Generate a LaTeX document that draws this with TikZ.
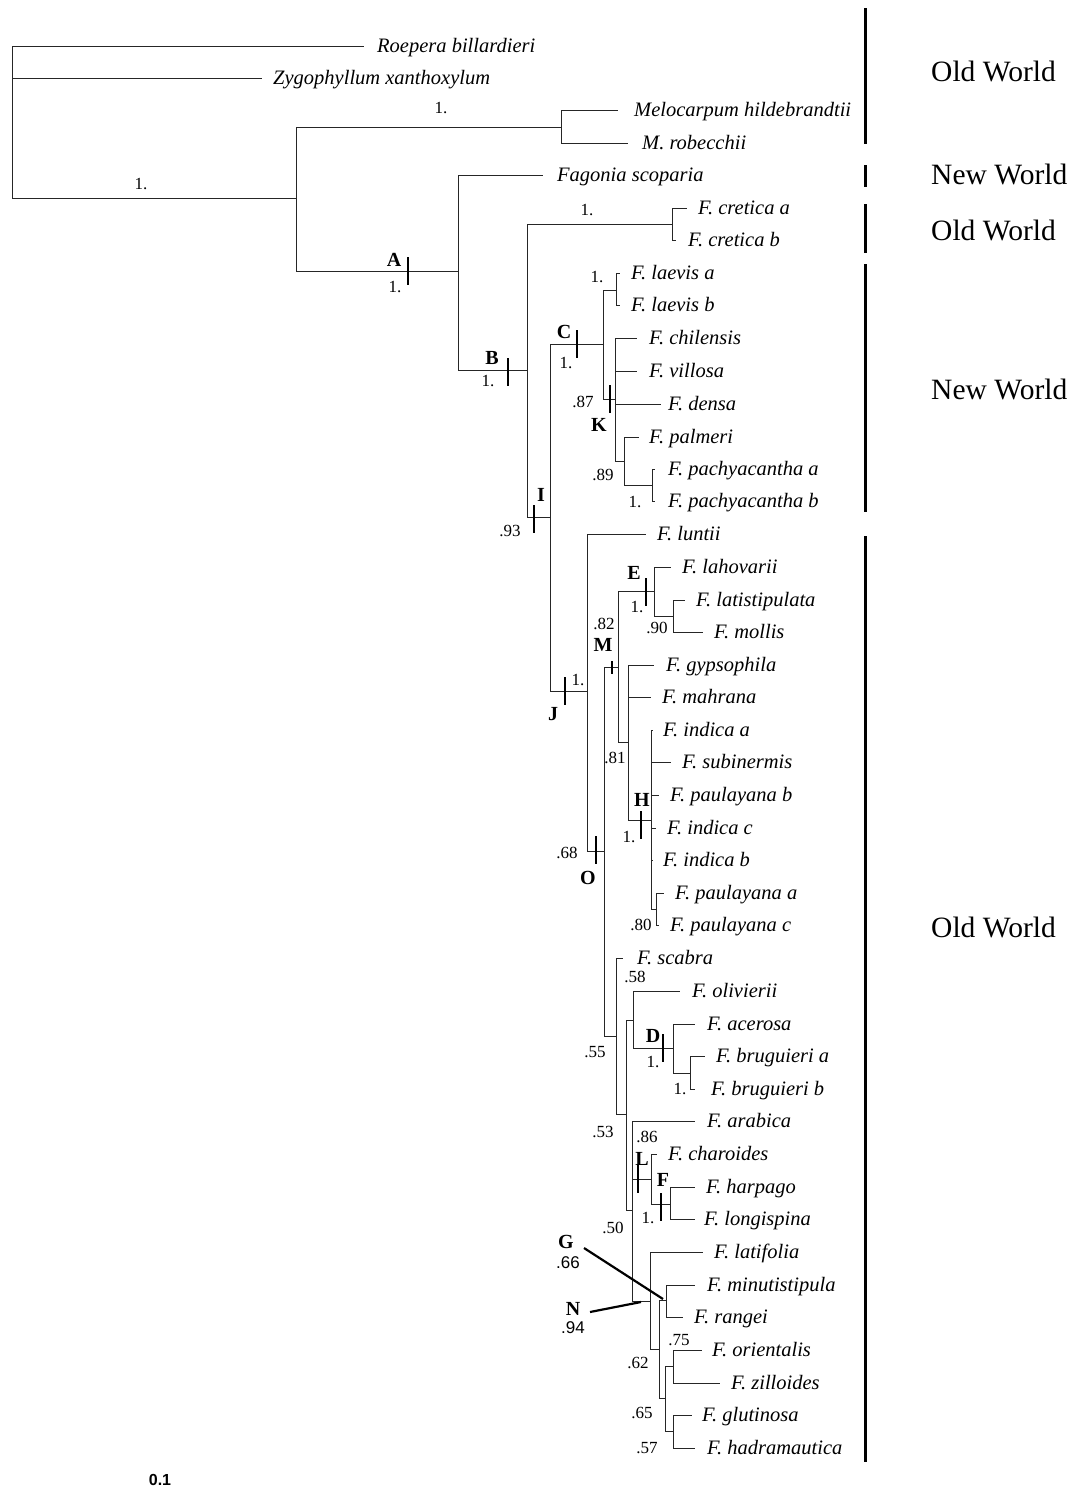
\documentclass[tikz,border=0pt]{standalone}
\usepackage{fontspec}
\setmainfont{Liberation Serif}
\newfontfamily\helv{Liberation Sans}
\tikzset{
  br/.style={line width=0.9pt,black!85},
  taxon/.style={anchor=west,inner sep=0pt,font=\fontsize{20.5}{22}\selectfont\itshape,text height=13.5pt,text depth=0pt},
  supp/.style={inner sep=0pt,font=\fontsize{17}{17}\selectfont},
  clade/.style={inner sep=0pt,font=\fontsize{20}{20}\selectfont\bfseries},
  cbar/.style={fill=black,inner sep=0pt,minimum width=2.8pt,minimum height=28pt},
  geo/.style={line width=3pt},
  region/.style={anchor=west,inner sep=0pt,font=\fontsize{29.5}{30}\selectfont,text height=19.5pt,text depth=0pt},
  call/.style={line width=2.2pt},
  csup/.style={inner sep=0pt,font=\helv\fontsize{17}{17}\selectfont}
}
\begin{document}
\begin{tikzpicture}[x=1pt,y=-1pt]
    \useasboundingbox (0,0) rectangle (1076,1492);
    % internal nodes
    \coordinate (r0) at (12,120); \coordinate (n1) at (296,198); \coordinate (nMel) at (561,127);
    \coordinate (nA) at (458,271); \coordinate (nB) at (527,370); \coordinate (nCre) at (672,224);
    \coordinate (nI) at (550,517); \coordinate (nC) at (603,344); \coordinate (nLae) at (616,290);
    \coordinate (nK) at (615,399); \coordinate (nPal) at (624,461); \coordinate (nPac) at (652,485);
    \coordinate (nJ) at (587,691); \coordinate (nO) at (604,851); \coordinate (nM) at (618,667);
    \coordinate (nE) at (654,591); \coordinate (nLat) at (673,616); \coordinate (nGyp) at (628,742);
    \coordinate (nH) at (651,820); \coordinate (nPau) at (656,909); \coordinate (nLow) at (616,1036);
    \coordinate (nOl) at (626,1114); \coordinate (nOli) at (633,1020); \coordinate (nD) at (673,1048);
    \coordinate (nBru) at (690,1073); \coordinate (nN) at (632,1210); \coordinate (nL) at (651,1179);
    \coordinate (nF) at (670,1204); \coordinate (nG0) at (650,1301); \coordinate (nP) at (659,1349);
    \coordinate (nG) at (666,1300); \coordinate (nQ) at (665,1398); \coordinate (nOr) at (673,1366);
    \coordinate (nGl) at (673,1431);
    % tips
    \coordinate (tRoe) at (364,46); \node[taxon] (lRoe) at (377,46) {Roepera billardieri};
    \coordinate (tZyg) at (262,78); \node[taxon] (lZyg) at (273,78) {Zygophyllum xanthoxylum};
    \coordinate (tMel1) at (618,110); \node[taxon] (lMel1) at (634,110) {Melocarpum hildebrandtii};
    \coordinate (tMel2) at (628,143); \node[taxon] (lMel2) at (642,143) {M. robecchii};
    \coordinate (tFsc) at (543,175); \node[taxon] (lFsc) at (557,175) {Fagonia scoparia};
    \coordinate (tCa) at (687,208); \node[taxon] (lCa) at (698,208) {F. cretica a};
    \coordinate (tCb) at (676,240); \node[taxon] (lCb) at (688,240) {F. cretica b};
    \coordinate (tLa) at (620,273); \node[taxon] (lLa) at (631,273) {F. laevis a};
    \coordinate (tLb) at (620,305); \node[taxon] (lLb) at (631,305) {F. laevis b};
    \coordinate (tChi) at (637,338); \node[taxon] (lChi) at (649,338) {F. chilensis};
    \coordinate (tVil) at (637,371); \node[taxon] (lVil) at (649,371) {F. villosa};
    \coordinate (tDen) at (661,404); \node[taxon] (lDen) at (668,404) {F. densa};
    \coordinate (tPal) at (639,437); \node[taxon] (lPal) at (649,437) {F. palmeri};
    \coordinate (tPa) at (655,469); \node[taxon] (lPa) at (668,469) {F. pachyacantha a};
    \coordinate (tPb) at (655,501); \node[taxon] (lPb) at (668,501) {F. pachyacantha b};
    \coordinate (tLun) at (646,534); \node[taxon] (lLun) at (657,534) {F. luntii};
    \coordinate (tLah) at (671,567); \node[taxon] (lLah) at (682,567) {F. lahovarii};
    \coordinate (tLat) at (685,600); \node[taxon] (lLat) at (696,600) {F. latistipulata};
    \coordinate (tMol) at (703,632); \node[taxon] (lMol) at (714,632) {F. mollis};
    \coordinate (tGyp) at (654,665); \node[taxon] (lGyp) at (666,665) {F. gypsophila};
    \coordinate (tMah) at (651,697); \node[taxon] (lMah) at (662,697) {F. mahrana};
    \coordinate (tIa) at (653,730); \node[taxon] (lIa) at (663,730) {F. indica a};
    \coordinate (tSub) at (671,762); \node[taxon] (lSub) at (682,762) {F. subinermis};
    \coordinate (tPb2) at (659,795); \node[taxon] (lPb2) at (670,795) {F. paulayana b};
    \coordinate (tIc) at (656,828); \node[taxon] (lIc) at (667,828) {F. indica c};
    \coordinate (tIb) at (653,860); \node[taxon] (lIb) at (663,860) {F. indica b};
    \coordinate (tPaa) at (664,893); \node[taxon] (lPaa) at (675,893) {F. paulayana a};
    \coordinate (tPac) at (659,925); \node[taxon] (lPac) at (670,925) {F. paulayana c};
    \coordinate (tSca) at (623,958); \node[taxon] (lSca) at (637,958) {F. scabra};
    \coordinate (tOli) at (680,991); \node[taxon] (lOli) at (692,991) {F. olivierii};
    \coordinate (tAce) at (695,1024); \node[taxon] (lAce) at (707,1024) {F. acerosa};
    \coordinate (tBa) at (705,1056); \node[taxon] (lBa) at (716,1056) {F. bruguieri a};
    \coordinate (tBb) at (695,1089); \node[taxon] (lBb) at (711,1089) {F. bruguieri b};
    \coordinate (tAra) at (695,1121); \node[taxon] (lAra) at (707,1121) {F. arabica};
    \coordinate (tCha) at (657,1154); \node[taxon] (lCha) at (668,1154) {F. charoides};
    \coordinate (tHar) at (695,1187); \node[taxon] (lHar) at (706,1187) {F. harpago};
    \coordinate (tLon) at (695,1219); \node[taxon] (lLon) at (704,1219) {F. longispina};
    \coordinate (tLatf) at (703,1252); \node[taxon] (lLatf) at (714,1252) {F. latifolia};
    \coordinate (tMin) at (695,1285); \node[taxon] (lMin) at (707,1285) {F. minutistipula};
    \coordinate (tRan) at (683,1317); \node[taxon] (lRan) at (694,1317) {F. rangei};
    \coordinate (tOr) at (702,1350); \node[taxon] (lOr) at (712,1350) {F. orientalis};
    \coordinate (tZil) at (720,1383); \node[taxon] (lZil) at (731,1383) {F. zilloides};
    \coordinate (tGlu) at (692,1415); \node[taxon] (lGlu) at (702,1415) {F. glutinosa};
    \coordinate (tHad) at (695,1448); \node[taxon] (lHad) at (707,1448) {F. hadramautica};
    % branches
    \draw[br] (r0) |- (tRoe) (r0) |- (tZyg) (r0) |- (n1);
    \draw[br] (n1) |- (nMel) (n1) |- (nA); \draw[br] (nMel) |- (tMel1) (nMel) |- (tMel2);
    \draw[br] (nA) |- (tFsc) (nA) |- (nB); \draw[br] (nB) |- (nCre) (nB) |- (nI);
    \draw[br] (nCre) |- (tCa) (nCre) |- (tCb); \draw[br] (nI) |- (nC) (nI) |- (nJ);
    \draw[br] (nC) |- (nLae) (nC) |- (nK); \draw[br] (nLae) |- (tLa) (nLae) |- (tLb);
    \draw[br] (nK) |- (tChi) (nK) |- (tVil) (nK) |- (tDen) (nK) |- (nPal);
    \draw[br] (nPal) |- (tPal) (nPal) |- (nPac); \draw[br] (nPac) |- (tPa) (nPac) |- (tPb);
    \draw[br] (nJ) |- (tLun) (nJ) |- (nO); \draw[br] (nO) |- (nM) (nO) |- (nLow);
    \draw[br] (nM) |- (nE) (nM) |- (nGyp); \draw[br] (nE) |- (tLah) (nE) |- (nLat);
    \draw[br] (nLat) |- (tLat) (nLat) |- (tMol); \draw[br] (nGyp) |- (tGyp) (nGyp) |- (tMah) (nGyp) |- (nH);
    \draw[br] (nH) |- (tIa) (nH) |- (tSub) (nH) |- (tPb2) (nH) |- (tIc) (nH) |- (tIb) (nH) |- (nPau);
    \draw[br] (nPau) |- (tPaa) (nPau) |- (tPac);
    \draw[br] (nLow) |- (tSca) (nLow) |- (nOl); \draw[br] (nOl) |- (nOli) (nOl) |- (nN);
    \draw[br] (nOli) |- (tOli) (nOli) |- (nD); \draw[br] (nD) |- (tAce) (nD) |- (nBru);
    \draw[br] (nBru) |- (tBa) (nBru) |- (tBb);
    \draw[br] (nN) |- (tAra) (nN) |- (nL) (nN) |- (nG0); \draw[br] (nL) |- (tCha) (nL) |- (nF);
    \draw[br] (nF) |- (tHar) (nF) |- (tLon); \draw[br] (nG0) |- (tLatf) (nG0) |- (nP);
    \draw[br] (nP) |- (nG) (nP) |- (nQ); \draw[br] (nG) |- (tMin) (nG) |- (tRan);
    \draw[br] (nQ) |- (nOr) (nQ) |- (nGl); \draw[br] (nOr) |- (tOr) (nOr) |- (tZil);
    \draw[br] (nGl) |- (tGlu) (nGl) |- (tHad);
    % clade bars
    \node[cbar] (bA) at (408,271) {}; \node[cbar] (bB) at (508,372) {}; \node[cbar] (bI) at (534,519) {};
    \node[cbar] (bC) at (577,344) {}; \node[cbar] (bK) at (610,399) {}; \node[cbar] (bJ) at (565,691) {};
    \node[cbar] (bE) at (646,592) {}; \node[cbar,minimum height=13pt,minimum width=2pt] (bM) at (612,667) {};
    \node[cbar] (bH) at (641,825) {}; \node[cbar] (bO) at (596,850) {}; \node[cbar] (bD) at (663,1048) {};
    \node[cbar] (bL) at (638,1179) {}; \node[cbar] (bF) at (661,1207) {};
    % clade letters and support
    \node[supp] (s0) at (141,184) {1.}; \node[supp] (sMel) at (441,108) {1.};
    \node[clade] (cA) at (394,260) {A}; \node[supp] (sA) at (395,287) {1.};
    \node[clade] (cB) at (492,358) {B}; \node[supp] (sB) at (488,381) {1.};
    \node[supp] (sCre) at (587,210) {1.};
    \node[clade] (cI) at (541,495) {I}; \node[supp] (sI) at (510,531) {.93};
    \node[clade] (cC) at (564,332) {C}; \node[supp] (sC) at (566,363) {1.};
    \node[supp] (sLae) at (597,277) {1.};
    \node[supp] (sK) at (583,402) {.87}; \node[clade] (cK) at (599,425) {K};
    \node[supp] (sPal) at (603,475) {.89}; \node[supp] (sPac) at (635,502) {1.};
    \node[supp] (sJ) at (578,680) {1.}; \node[clade] (cJ) at (553,714) {J};
    \node[clade] (cE) at (634,573) {E}; \node[supp] (sE) at (637,607) {1.};
    \node[supp] (sLat) at (657,628) {.90};
    \node[supp] (sM) at (604,624) {.82}; \node[clade] (cM) at (603,645) {M};
    \node[supp] (sGyp) at (615,758) {.81};
    \node[clade] (cH) at (642,800) {H}; \node[supp] (sH) at (629,837) {1.};
    \node[supp] (sPau) at (641,925) {.80};
    \node[supp] (sO) at (567,853) {.68}; \node[clade] (cO) at (588,878) {O};
    \node[supp] (sOl) at (635,977) {.58}; \node[supp] (sLow) at (595,1052) {.55};
    \node[supp] (sOl2) at (603,1132) {.53};
    \node[clade] (cD) at (653,1036) {D}; \node[supp] (sD) at (653,1062) {1.};
    \node[supp] (sBru) at (680,1089) {1.};
    \node[supp] (sL) at (647,1137) {.86}; \node[clade] (cL) at (642,1159) {L};
    \node[clade] (cF) at (663,1180) {F}; \node[supp] (sF) at (648,1218) {1.};
    \node[supp] (sN) at (613,1228) {.50};
    \node[supp] (sOr) at (679,1340) {.75}; \node[supp] (sP) at (638,1363) {.62};
    \node[supp] (sQ) at (642,1413) {.65}; \node[supp] (sGl) at (647,1448) {.57};
    % callouts G and N
    \node[clade] (cG) at (566,1242) {G}; \node[csup] (sG) at (568,1263) {.66};
    \coordinate (kG) at (584,1248); \coordinate (pG) at (663,1299); \draw[call] (kG) -- (pG);
    \node[clade] (cN) at (573,1309) {N}; \node[csup] (sN2) at (573,1328) {.94};
    \coordinate (kN) at (590,1312); \coordinate (pN) at (641,1302); \draw[call] (kN) -- (pN);
    % geography
    \coordinate (g1t) at (865,8); \coordinate (g1b) at (865,144); \draw[geo] (g1t) -- (g1b);
    \coordinate (g2t) at (865,165); \coordinate (g2b) at (865,187); \draw[geo] (g2t) -- (g2b);
    \coordinate (g3t) at (865,204); \coordinate (g3b) at (865,253); \draw[geo] (g3t) -- (g3b);
    \coordinate (g4t) at (865,264); \coordinate (g4b) at (865,512); \draw[geo] (g4t) -- (g4b);
    \coordinate (g5t) at (865,536); \coordinate (g5b) at (865,1462); \draw[geo] (g5t) -- (g5b);
    \node[region] (w1) at (931,72) {Old World}; \node[region] (w2) at (931,175) {New World};
    \node[region] (w3) at (931,231) {Old World}; \node[region] (w4) at (931,390) {New World};
    \node[region] (w5) at (931,928) {Old World};
    % scale
    \node[inner sep=0pt,font=\helv\bfseries\fontsize{16}{16}\selectfont] (sc) at (160,1480) {0.1};
\end{tikzpicture}
\end{document}
